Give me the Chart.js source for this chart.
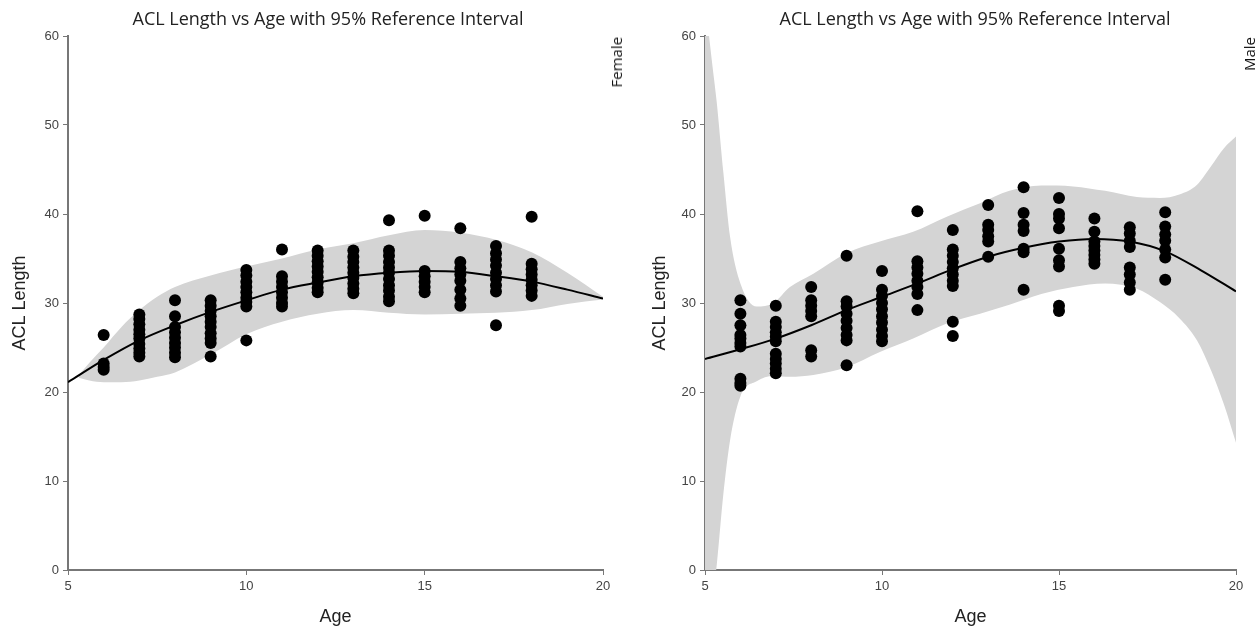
<!DOCTYPE html>
<html lang="en">
<head>
  <meta charset="UTF-8">
  <title>ACL Length vs Age</title>
  <style>
    body {
      margin: 0;
      background: #ffffff;
      width: 1260px;
      height: 632px;
      overflow: hidden;
      position: relative;
      font-family: 'Open Sans', sans-serif;
    }
    canvas { position: absolute; top: 0; }
    #femaleChart { left: 0; }
    #maleChart { left: 630px; }
    .title {
      position: absolute;
      top: 5px;
      width: 600px;
      text-align: center;
      font-size: 18px;
      line-height: 26px;
      color: #222;
      white-space: nowrap;
    }
    .side {
      position: absolute;
      top: 37px;
      writing-mode: vertical-rl;
      transform: rotate(180deg);
      font-size: 15px;
      color: #111;
      line-height: 18px;
    }
  </style>
</head>
<body>
  <canvas id="femaleChart" width="630" height="632"></canvas>
  <canvas id="maleChart" width="630" height="632"></canvas>
  <div class="title" style="left: 28px;">ACL Length vs Age with 95% Reference Interval</div>
  <div class="title" style="left: 675px;">ACL Length vs Age with 95% Reference Interval</div>
  <div class="side" style="left: 607px;">Female</div>
  <div class="side" style="left: 1240px;">Male</div>

  <script src="https://cdn.jsdelivr.net/npm/chart.js@4.4.1/dist/chart.umd.min.js"></script>
  <script>
    // ages that have measured dots
    const dotAges = [6, 7, 8, 9, 10, 11, 12, 13, 14, 15, 16, 17, 18];

    // Female measurements, one list per age
    const femaleDots = [
      [26.4, 23.2, 22.8, 22.5],
      [28.7, 28.2, 27.6, 27.0, 26.5, 26.0, 25.4, 24.9, 24.4, 24.0],
      [30.3, 28.5, 27.3, 26.7, 26.1, 25.5, 25.0, 24.4, 23.9],
      [30.3, 29.7, 29.1, 28.5, 27.9, 27.3, 26.6, 26.0, 25.5, 24.0],
      [33.7, 33.1, 32.4, 31.8, 31.2, 30.6, 30.1, 29.6, 25.8],
      [36.0, 33.0, 32.4, 31.8, 31.2, 30.6, 30.0, 29.6],
      [35.9, 35.3, 34.7, 34.1, 33.5, 32.9, 32.3, 31.7, 31.2],
      [35.9, 35.2, 34.6, 34.0, 33.4, 32.8, 32.2, 31.6, 31.1],
      [39.3, 35.9, 35.3, 34.6, 34.0, 33.4, 32.7, 32.0, 31.4, 30.7, 30.2],
      [39.8, 33.6, 33.0, 32.4, 31.8, 31.2],
      [38.4, 34.6, 33.9, 33.2, 32.5, 31.5, 30.5, 29.7],
      [36.4, 35.6, 34.9, 34.2, 33.4, 32.7, 32.0, 31.3, 27.5],
      [39.7, 34.4, 33.8, 33.2, 32.6, 32.0, 31.4, 30.8]
    ];

    // Male measurements, one list per age
    const maleDots = [
      [30.3, 28.8, 27.5, 26.4, 26.0, 25.5, 25.1, 21.5, 21.0, 20.7],
      [29.7, 27.9, 27.3, 26.7, 26.2, 25.7, 24.3, 23.7, 23.2, 22.6, 22.1],
      [31.8, 30.3, 29.7, 29.1, 28.5, 24.7, 24.0],
      [35.3, 30.2, 29.6, 28.8, 28.0, 27.2, 26.4, 25.8, 23.0],
      [33.6, 31.5, 30.8, 30.0, 29.3, 28.5, 27.8, 27.0, 26.3, 25.7],
      [40.3, 34.7, 34.0, 33.3, 32.5, 31.8, 31.0, 29.2],
      [38.2, 36.0, 35.3, 34.6, 33.9, 33.2, 32.5, 31.9, 27.9, 26.3],
      [41.0, 38.8, 38.2, 37.5, 36.9, 35.2],
      [43.0, 40.1, 38.8, 38.1, 36.1, 35.7, 31.5],
      [41.8, 40.0, 39.5, 38.4, 36.1, 34.8, 34.1, 29.7, 29.1],
      [39.5, 38.0, 36.9, 36.4, 35.9, 35.4, 34.9, 34.4],
      [38.5, 37.8, 37.0, 36.3, 34.0, 33.2, 32.3, 31.5],
      [40.2, 38.6, 37.7, 37.0, 36.0, 35.1, 32.6]
    ];

    // fitted curves
    const fitAges = [5, 6, 7, 8, 9, 10, 11, 12, 13, 14, 15, 16, 17, 18, 19, 20];
    const femaleFit = [21.1, 23.6, 25.8, 27.5, 29.0, 30.3, 31.5, 32.3, 33.0, 33.4, 33.6, 33.5, 33.0, 32.4, 31.5, 30.5];
    const maleFit = [23.7, 24.8, 26.0, 27.5, 29.2, 30.7, 32.2, 33.8, 35.2, 36.2, 36.9, 37.2, 36.9, 35.8, 33.7, 31.3];

    // 95% reference interval
    const femaleBandAges = [5.3, 5.6, 6, 6.5, 7, 7.5, 8, 9, 10, 11, 12, 13, 14, 15, 16, 17, 18, 19, 20];
    const femaleUpper = [21.9, 23.3, 25.0, 27.3, 29.2, 30.7, 31.8, 33.1, 34.1, 35.0, 36.0, 36.7, 37.6, 38.2, 37.9, 37.1, 35.7, 33.4, 30.7];
    const femaleLower = [21.6, 21.3, 21.1, 21.1, 21.3, 21.7, 22.2, 24.2, 26.5, 27.9, 28.8, 29.2, 28.9, 28.7, 28.8, 28.9, 29.2, 29.9, 30.4];

    const maleBandAges = [5, 5.1, 5.2, 5.33, 5.52, 5.71, 6, 6.46, 6.93, 7.4, 8.06, 9, 9.94, 10.88, 11.83, 12.77, 13.6, 14.5, 15.4, 16.3, 17.2, 17.85, 18.4, 18.9, 19.3, 19.66, 20];
    const maleUpper = [64, 60.5, 57, 52.6, 44.6, 37.4, 32.2, 29.6, 30.0, 31.8, 33.3, 35.6, 36.9, 38.0, 39.7, 41.2, 42.6, 43.2, 43.1, 42.6, 41.9, 41.8, 42.2, 43.3, 45.4, 47.4, 48.7];
    const maleLower = [-40, -12, -4, 0.5, 8.6, 14.6, 19.5, 21.2, 21.8, 21.7, 21.9, 22.8, 24.5, 26.0, 27.7, 28.8, 29.8, 31.0, 31.8, 32.2, 31.6, 30.1, 28.3, 25.8, 22.4, 18.6, 14.3];

    const yTicks = [0, 10, 20, 30, 40, 50, 60];
    const xTicks = [5, 10, 15, 20];

    const toPoints = (xs, ys) => xs.map((x, i) => ({ x: x, y: ys[i] }));
    const dotPoints = (groups) => {
      const pts = [];
      groups.forEach((vals, i) => vals.forEach(v => pts.push({ x: dotAges[i], y: v })));
      return pts;
    };

    function makeChart(id, dots, fit, bandX, upper, lower, yAxisWidth, padRight, yTitlePad) {
      return new Chart(document.getElementById(id), {
        type: 'line',
        data: {
          datasets: [
            {
              data: toPoints(fitAges, fit),
              borderColor: '#000',
              borderWidth: 2,
              pointRadius: 0,
              cubicInterpolationMode: 'monotone',
              fill: false,
              order: 0
            },
            {
              data: dotPoints(dots),
              showLine: false,
              pointRadius: 6,
              pointBackgroundColor: '#000',
              pointBorderWidth: 0,
              order: 1
            },
            {
              data: toPoints(bandX, upper),
              borderWidth: 0,
              pointRadius: 0,
              backgroundColor: '#d4d4d4',
              cubicInterpolationMode: 'monotone',
              fill: '+1',
              order: 2
            },
            {
              data: toPoints(bandX, lower),
              borderWidth: 0,
              pointRadius: 0,
              cubicInterpolationMode: 'monotone',
              fill: false,
              order: 3
            }
          ]
        },
        options: {
          responsive: false,
          animation: false,
          events: [],
          layout: { padding: { top: 36, right: padRight, bottom: 0, left: 0 } },
          plugins: { legend: { display: false }, tooltip: { enabled: false } },
          scales: {
            x: {
              type: 'linear',
              min: 5,
              max: 20,
              afterBuildTicks: s => { s.ticks = xTicks.map(v => ({ value: v })); },
              afterFit: s => { s.height = 62; },
              grid: { drawOnChartArea: false, tickLength: 5, color: '#777' },
              border: { color: '#777', width: 2 },
              ticks: { color: '#444', font: { family: 'Liberation Sans', size: 13 }, padding: 4, maxRotation: 0 },
              title: { display: true, text: 'Age', color: '#222', font: { family: 'Liberation Sans', size: 18 }, padding: { top: 0, bottom: 4 } }
            },
            y: {
              min: 0,
              max: 60,
              afterBuildTicks: s => { s.ticks = yTicks.map(v => ({ value: v })); },
              afterFit: s => { s.width = yAxisWidth; },
              grid: { drawOnChartArea: false, tickLength: 5, color: '#777' },
              border: { color: '#777', width: 2 },
              ticks: { color: '#444', font: { family: 'Liberation Sans', size: 13 }, padding: 4 },
              title: { display: true, text: 'ACL Length', color: '#222', font: { family: 'Liberation Sans', size: 18 }, padding: { top: yTitlePad, bottom: 0 } }
            }
          }
        }
      });
    }

    makeChart('femaleChart', femaleDots, femaleFit, femaleBandAges, femaleUpper, femaleLower, 68, 27, 9);
    makeChart('maleChart', maleDots, maleFit, maleBandAges, maleUpper, maleLower, 75, 24, 19);
  </script>
</body>
</html>
